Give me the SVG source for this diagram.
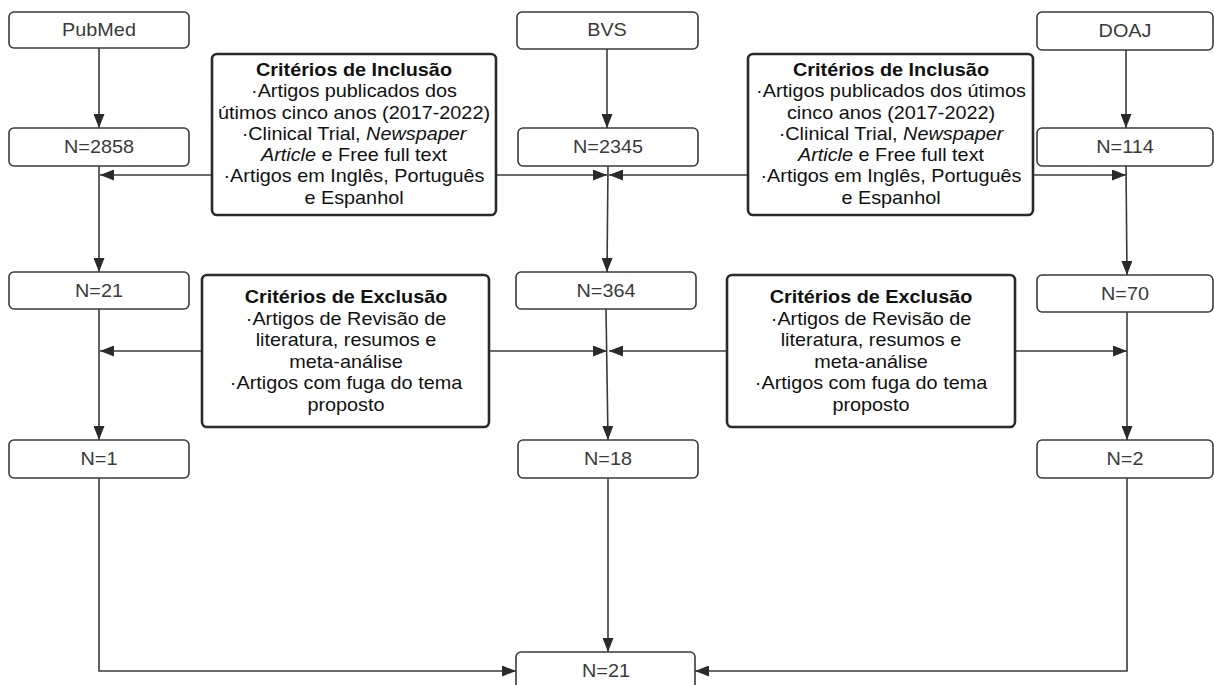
<svg xmlns="http://www.w3.org/2000/svg" width="1214" height="685" viewBox="0 0 1214 685">
<defs>
<style>
.node{fill:#fff;stroke:#3a3a3a;stroke-width:1.6}
.crit{fill:#fff;stroke:#2a2a2a;stroke-width:2.6}
.lbl{font-family:"Liberation Sans",Arial,sans-serif;font-size:17.7px;fill:#3a3a3a;text-anchor:middle}
.ct{font-family:"Liberation Sans",Arial,sans-serif;font-size:17.7px;fill:#111;text-anchor:middle}
.b{font-weight:bold}
.i{font-style:italic}
.con{fill:none;stroke:#3a3a3a;stroke-width:1.6}
</style>
<marker id="ah" viewBox="0 0 14 11" refX="14" refY="5.5" markerWidth="14" markerHeight="11" markerUnits="userSpaceOnUse" orient="auto">
<path d="M0,0 L14,5.5 L0,11 z" fill="#2a2a2a"/>
</marker>
</defs>
<rect width="1214" height="685" fill="#fff"/>

<g id="connectors">
<path class="con" d="M99,48 V128" marker-end="url(#ah)"/>
<path class="con" d="M99,166 V272" marker-end="url(#ah)"/>
<path class="con" d="M99,309 V440" marker-end="url(#ah)"/>
<path class="con" d="M99,478 V671 H516" marker-end="url(#ah)"/>
<path class="con" d="M607,49 V128" marker-end="url(#ah)"/>
<path class="con" d="M608,166 L607,272" marker-end="url(#ah)"/>
<path class="con" d="M606,309 L608,440" marker-end="url(#ah)"/>
<path class="con" d="M608,478 V652" marker-end="url(#ah)"/>
<path class="con" d="M1126,50 V128" marker-end="url(#ah)"/>
<path class="con" d="M1126,166 L1127,275" marker-end="url(#ah)"/>
<path class="con" d="M1127,312 V440" marker-end="url(#ah)"/>
<path class="con" d="M1127,478 V671 H695" marker-end="url(#ah)"/>
<path class="con" d="M212,175 H100" marker-end="url(#ah)"/>
<path class="con" d="M496,175 H607" marker-end="url(#ah)"/>
<path class="con" d="M748,175 H609" marker-end="url(#ah)"/>
<path class="con" d="M1033,175 H1126" marker-end="url(#ah)"/>
<path class="con" d="M202,351 H100" marker-end="url(#ah)"/>
<path class="con" d="M489,351 H607" marker-end="url(#ah)"/>
<path class="con" d="M727,351 H609" marker-end="url(#ah)"/>
<path class="con" d="M1015,351 H1127" marker-end="url(#ah)"/>
</g>

<g id="pubmed"><rect class="node" x="9" y="12" width="180" height="36" rx="5"/><text class="lbl" transform="translate(99,36) scale(1.12,1)">PubMed</text></g>
<g id="n2858"><rect class="node" x="9" y="128" width="180" height="38" rx="5"/><text class="lbl" transform="translate(99,153) scale(1.12,1)">N=2858</text></g>
<g id="n21a"><rect class="node" x="9" y="272" width="180" height="37" rx="5"/><text class="lbl" transform="translate(99,297) scale(1.12,1)">N=21</text></g>
<g id="n1"><rect class="node" x="9" y="440" width="180" height="38" rx="5"/><text class="lbl" transform="translate(99,465) scale(1.12,1)">N=1</text></g>

<g id="bvs"><rect class="node" x="517" y="12" width="181" height="37" rx="5"/><text class="lbl" transform="translate(607,36) scale(1.12,1)">BVS</text></g>
<g id="n2345"><rect class="node" x="518" y="128" width="180" height="38" rx="5"/><text class="lbl" transform="translate(608,153) scale(1.12,1)">N=2345</text></g>
<g id="n364"><rect class="node" x="516" y="272" width="180" height="37" rx="5"/><text class="lbl" transform="translate(606,297) scale(1.12,1)">N=364</text></g>
<g id="n18"><rect class="node" x="518" y="440" width="180" height="38" rx="5"/><text class="lbl" transform="translate(608,465) scale(1.12,1)">N=18</text></g>
<g id="n21b"><rect class="node" x="516" y="652" width="179" height="40" rx="5"/><text class="lbl" transform="translate(606,677) scale(1.12,1)">N=21</text></g>

<g id="doaj"><rect class="node" x="1037" y="12" width="176" height="38" rx="5"/><text class="lbl" transform="translate(1125,37) scale(1.12,1)">DOAJ</text></g>
<g id="n114"><rect class="node" x="1037" y="128" width="176" height="38" rx="5"/><text class="lbl" transform="translate(1125,153) scale(1.12,1)">N=114</text></g>
<g id="n70"><rect class="node" x="1037" y="275" width="176" height="37" rx="5"/><text class="lbl" transform="translate(1125,300) scale(1.12,1)">N=70</text></g>
<g id="n2"><rect class="node" x="1037" y="440" width="176" height="38" rx="5"/><text class="lbl" transform="translate(1125,465) scale(1.12,1)">N=2</text></g>

<g id="inclusao1">
<rect class="crit" x="212" y="54" width="284" height="161" rx="5"/>
<g transform="translate(354,0) scale(1.12,1)">
<text class="ct b" x="0" y="76">Critérios de Inclusão</text>
<text class="ct" x="0" y="97.3">·Artigos publicados dos</text>
<text class="ct" x="0" y="118.6">útimos cinco anos (2017-2022)</text>
<text class="ct" x="0" y="139.9">·Clinical Trial, <tspan class="i">Newspaper</tspan></text>
<text class="ct" x="0" y="161.2"><tspan class="i">Article</tspan> e Free full text</text>
<text class="ct" x="0" y="182.5">·Artigos em Inglês, Português</text>
<text class="ct" x="0" y="203.8">e Espanhol</text>
</g>
</g>

<g id="inclusao2">
<rect class="crit" x="748" y="54" width="285" height="161" rx="5"/>
<g transform="translate(891,0) scale(1.12,1)">
<text class="ct b" x="0" y="76">Critérios de Inclusão</text>
<text class="ct" x="0" y="97.3">·Artigos publicados dos útimos</text>
<text class="ct" x="0" y="118.6">cinco anos (2017-2022)</text>
<text class="ct" x="0" y="139.9">·Clinical Trial, <tspan class="i">Newspaper</tspan></text>
<text class="ct" x="0" y="161.2"><tspan class="i">Article</tspan> e Free full text</text>
<text class="ct" x="0" y="182.5">·Artigos em Inglês, Português</text>
<text class="ct" x="0" y="203.8">e Espanhol</text>
</g>
</g>

<g id="exclusao1">
<rect class="crit" x="202" y="275" width="287" height="152" rx="5"/>
<g transform="translate(346,0) scale(1.12,1)">
<text class="ct b" x="0" y="303.5">Critérios de Exclusão</text>
<text class="ct" x="0" y="325">·Artigos de Revisão de</text>
<text class="ct" x="0" y="346.5">literatura, resumos e</text>
<text class="ct" x="0" y="368">meta-análise</text>
<text class="ct" x="0" y="389.5">·Artigos com fuga do tema</text>
<text class="ct" x="0" y="411">proposto</text>
</g>
</g>

<g id="exclusao2">
<rect class="crit" x="727" y="275" width="288" height="152" rx="5"/>
<g transform="translate(871,0) scale(1.12,1)">
<text class="ct b" x="0" y="303.5">Critérios de Exclusão</text>
<text class="ct" x="0" y="325">·Artigos de Revisão de</text>
<text class="ct" x="0" y="346.5">literatura, resumos e</text>
<text class="ct" x="0" y="368">meta-análise</text>
<text class="ct" x="0" y="389.5">·Artigos com fuga do tema</text>
<text class="ct" x="0" y="411">proposto</text>
</g>
</g>
</svg>
